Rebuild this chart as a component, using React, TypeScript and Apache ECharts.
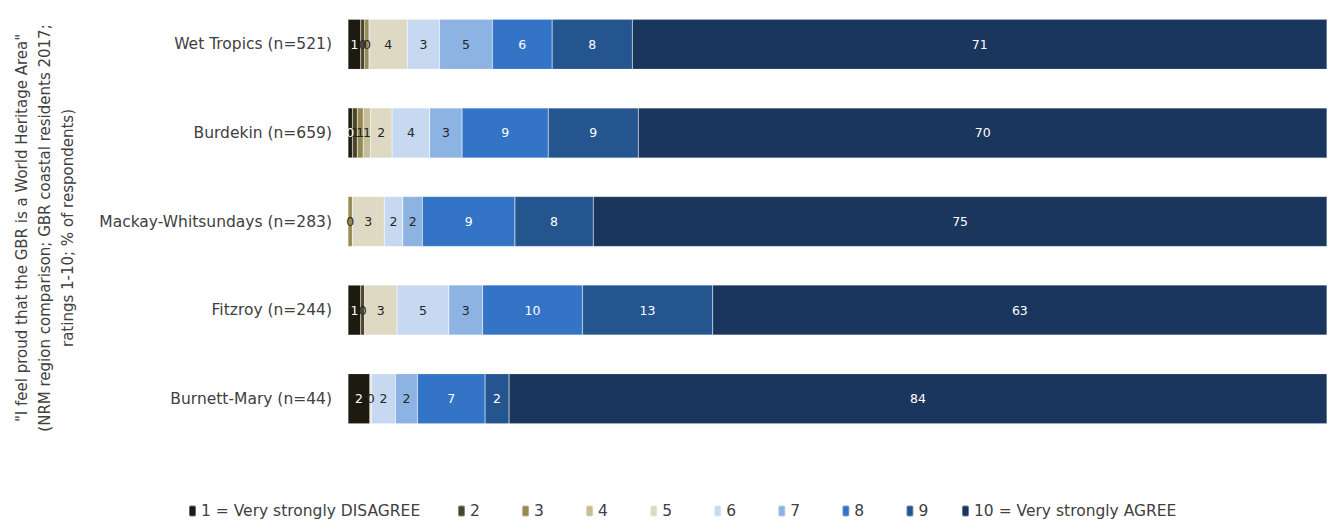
import React, { useEffect, useRef } from "react";
import * as echarts from "echarts";

const regions = [
  "Wet Tropics (n=521)",
  "Burdekin (n=659)",
  "Mackay-Whitsundays (n=283)",
  "Fitzroy (n=244)",
  "Burnett-Mary (n=44)",
];

const ratingNames = [
  "1 = Very strongly DISAGREE",
  "2",
  "3",
  "4",
  "5",
  "6",
  "7",
  "8",
  "9",
  "10 = Very strongly AGREE",
];

// % of respondents per rating, one array per rating (order matches regions)
const r1 = [1.3, 0.45, 0, 1.3, 2.25];
const r2 = [0.4, 0.5, 0, 0.4, 0];
const r3 = [0.45, 0.6, 0.45, 0, 0];
const r4 = [0, 0.75, 0, 0, 0];
const r5 = [3.9, 2.2, 3.25, 3.3, 0.15];
const r6 = [3.3, 3.85, 1.9, 5.3, 2.45];
const r7 = [5.4, 3.3, 2.0, 3.45, 2.25];
const r8 = [6.1, 8.8, 9.45, 10.2, 6.9];
const r9 = [8.2, 9.2, 8.0, 13.3, 2.45];
const r10 = [70.95, 70.35, 74.95, 62.75, 83.55];

const ratingValues = [r1, r2, r3, r4, r5, r6, r7, r8, r9, r10];

const ratingColors = [
  "#1d1b10",
  "#4a452a",
  "#948a54",
  "#c4bd97",
  "#ddd9c3",
  "#c6d9f1",
  "#8db3e2",
  "#3374c6",
  "#24558f",
  "#1a365c",
];

const labelColors = [
  "#ffffff",
  "#262626",
  "#262626",
  "#262626",
  "#262626",
  "#262626",
  "#262626",
  "#ffffff",
  "#ffffff",
  "#ffffff",
];

const axisTitle =
  '"I feel proud that the GBR is a World Heritage Area"\n(NRM region comparison; GBR coastal residents 2017;\nratings 1-10; % of respondents)';

const FONT = "'DejaVu Sans', 'Liberation Sans', sans-serif";

export default function App() {
  const ref = useRef<HTMLDivElement>(null);

  useEffect(() => {
    if (!ref.current) return;
    const chart = echarts.init(ref.current, null, { renderer: "svg" });

    const series = ratingNames.map((name, i) => ({
      name,
      type: "bar",
      stack: "total",
      barWidth: 50,
      itemStyle: {
        color: ratingColors[i],
        borderColor: "rgba(255,255,255,0.35)",
        borderWidth: 0.5,
      },
      label: {
        show: true,
        position: "inside",
        color: labelColors[i],
        fontFamily: FONT,
        fontSize: 12.5,
        formatter: (p: any) => (p.value > 0 ? String(Math.round(p.value)) : ""),
      },
      emphasis: { disabled: true },
      data: ratingValues[i],
    }));

    const legendText = { fontFamily: FONT, fontSize: 15.5, color: "#404040" };

    chart.setOption({
      animation: false,
      textStyle: { fontFamily: FONT },
      grid: { left: 348, width: 979, top: 0, height: 443 },
      xAxis: {
        type: "value",
        min: 0,
        max: 100,
        show: false,
      },
      yAxis: {
        type: "category",
        data: regions,
        inverse: true,
        axisLine: { show: false },
        axisTick: { show: false },
        axisLabel: {
          margin: 16,
          fontFamily: FONT,
          fontSize: 15.5,
          color: "#404040",
        },
      },
      legend: [
        {
          data: [ratingNames[0]],
          left: 183,
          top: 498,
          itemWidth: 7,
          itemHeight: 11,
          textStyle: legendText,
          selectedMode: false,
        },
        {
          data: ratingNames.slice(1, 9),
          left: 452,
          top: 498,
          itemWidth: 7,
          itemHeight: 11,
          itemGap: 41.2,
          textStyle: legendText,
          selectedMode: false,
        },
        {
          data: [ratingNames[9]],
          left: 956,
          top: 498,
          itemWidth: 7,
          itemHeight: 11,
          textStyle: legendText,
          selectedMode: false,
        },
      ],
      graphic: [
        {
          type: "text",
          x: 45,
          y: 228,
          rotation: Math.PI / 2,
          style: {
            text: axisTitle,
            fontFamily: FONT,
            fontSize: 15,
            lineHeight: 23,
            fill: "#404040",
            align: "center",
            verticalAlign: "middle",
          },
        },
      ],
      series,
    });

    return () => chart.dispose();
  }, []);

  return (
    <div
      ref={ref}
      style={{ position: "fixed", left: 0, top: 0, width: 1333, height: 522, background: "#fff" }}
    />
  );
}
